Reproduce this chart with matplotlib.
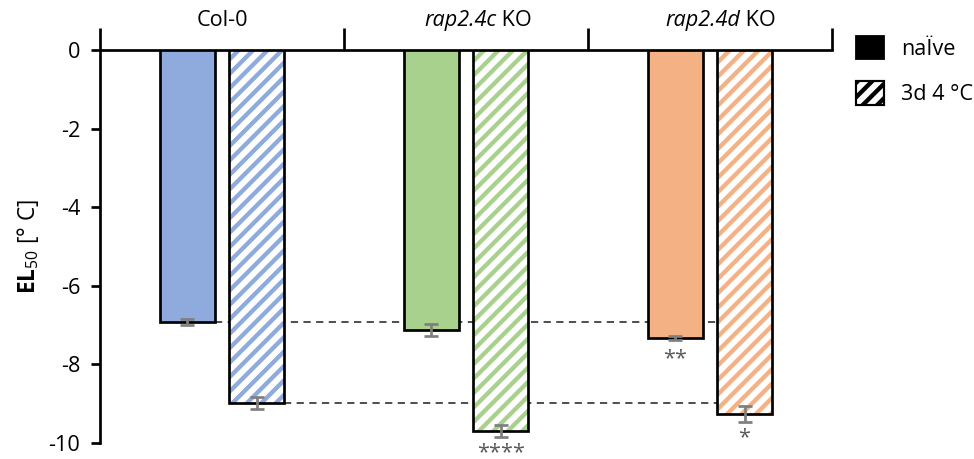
import numpy as np
import matplotlib
matplotlib.use('Agg')
from matplotlib import pyplot as plt
from matplotlib.patches import Patch

plt.rcParams['font.family'] = ['Open Sans', 'DejaVu Sans']
plt.rcParams['mathtext.fontset'] = 'custom'
plt.rcParams['mathtext.rm'] = 'Open Sans'
plt.rcParams['mathtext.bf'] = 'Open Sans:bold'
plt.rcParams['hatch.linewidth'] = 2.4

# data
genotypes = [('', 'Col-0'), ('rap2.4c', ' KO'), ('rap2.4d', ' KO')]
naive = [-6.93, -7.12, -7.33]
naive_err = [0.08, 0.15, 0.05]
cold = [-8.98, -9.70, -9.27]
cold_err = [0.15, 0.15, 0.20]
colors = ['#8faadc', '#a9d18e', '#f4b183']
naive_stars = ['', '', '**']
cold_stars = ['', '****', '*']

fig = plt.figure(figsize=(974 / 130, 459 / 130), dpi=130)
ax = fig.add_axes([100 / 974, 1 - 443 / 459, 732 / 974, 393 / 459])

x = np.arange(len(genotypes)) + 0.5
w = 0.226
off = 0.143
ekw = dict(ecolor='#7f7f7f', elinewidth=1.5, capsize=4, capthick=1.5)
star_kw = dict(ha='center', va='center', fontsize=12, color='#595959', clip_on=False)


def stars(s):
    # mathtext keeps the text box tight around the asterisks
    return '$' + ''.join('{*}' for _ in s) + '$'


for i in range(len(genotypes)):
    # naive: solid fill
    ax.bar(x[i] - off, naive[i], w, color=colors[i], edgecolor='black', lw=1.5, zorder=3)
    ax.errorbar(x[i] - off, naive[i], yerr=naive_err[i], fmt='none', zorder=4, **ekw)
    # cold acclimated: hatched
    ax.bar(x[i] + off, cold[i], w, color='white', edgecolor=colors[i], hatch='///', lw=0, zorder=3)
    ax.bar(x[i] + off, cold[i], w, fill=False, edgecolor='black', lw=1.5, zorder=3)
    ax.errorbar(x[i] + off, cold[i], yerr=cold_err[i], fmt='none', zorder=4, **ekw)
    if naive_stars[i]:
        ax.text(x[i] - off, naive[i] - naive_err[i] - 0.44, stars(naive_stars[i]), **star_kw)
    if cold_stars[i]:
        ax.text(x[i] + off, cold[i] - cold_err[i] - 0.36, stars(cold_stars[i]), **star_kw)

# reference lines at Col-0 levels
x_end = x[-1] + off + w / 2
ax.hlines(naive[0], x[0] - off + w / 2, x_end, colors='#404040', linestyles=(0, (4, 3)), lw=1, zorder=2)
ax.hlines(cold[0], x[0] + off + w / 2, x_end, colors='#404040', linestyles=(0, (4, 3)), lw=1, zorder=2)

ax.set_xlim(0, 3)
ax.set_ylim(-10, 0)
ax.set_yticks([0, -2, -4, -6, -8, -10])
ax.set_yticklabels(['0', '-2', '-4', '-6', '-8', '-10'])
ax.tick_params(axis='y', labelsize=12, length=5, width=1.5, pad=6)
ax.set_ylabel(r'$\mathbf{EL}_{50}$ [° C]', fontsize=12.5, labelpad=4)

ax.xaxis.tick_top()
ax.set_xticks([0, 1, 2, 3])
ax.set_xticklabels([])
ax.tick_params(axis='x', which='major', length=12, width=1.5, direction='out')

# genotype labels above the top axis (italic gene name + plain suffix)
for i, (gene, rest) in enumerate(genotypes):
    if gene:
        split = x[i] + 0.125
        ax.text(split, 1.075, gene, style='italic', ha='right', va='center', fontsize=12,
                transform=ax.get_xaxis_transform())
        ax.text(split, 1.075, rest, ha='left', va='center', fontsize=12,
                transform=ax.get_xaxis_transform())
    else:
        ax.text(x[i], 1.075, rest, ha='center', va='center', fontsize=12,
                transform=ax.get_xaxis_transform())

ax.spines['right'].set_visible(False)
ax.spines['bottom'].set_visible(False)
ax.spines['top'].set_linewidth(1.5)
ax.spines['left'].set_linewidth(1.5)

handles = [Patch(facecolor='black', edgecolor='black'),
           Patch(facecolor='white', edgecolor='black', hatch='///', lw=1.2)]
fig.legend(handles, ['naÏve', '3d 4 °C'], loc='upper left', bbox_to_anchor=(847 / 974, 1 - 27 / 459),
           frameon=False, fontsize=12, handlelength=1.3, handleheight=1.3, labelspacing=1.0,
           handletextpad=0.8, borderaxespad=0)

fig.savefig('out.png', dpi=130)
